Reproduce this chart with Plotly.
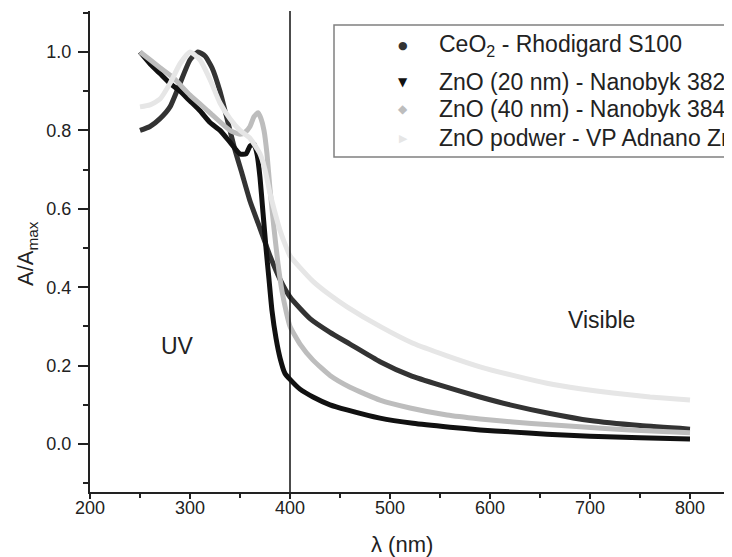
import plotly.graph_objects as go

# ---------------- data ----------------
series_names = [
    "CeO<sub>2</sub> - Rhodigard S100",
    "ZnO (20 nm) - Nanobyk 3820",
    "ZnO (40 nm) - Nanobyk 3840",
    "ZnO podwer - VP Adnano ZnO 20",
]

wl_ceo2 = [250, 260, 270, 280, 290, 300, 308, 315, 322, 330, 338, 345, 352, 360, 370,
           380, 390, 400, 420, 440, 460, 490, 520, 550, 590, 620, 660, 700, 750, 800]
a_ceo2 = [0.80, 0.81, 0.83, 0.86, 0.92, 0.98, 1.00, 0.99, 0.96, 0.90, 0.82, 0.75, 0.69, 0.62, 0.55,
          0.48, 0.42, 0.375, 0.32, 0.285, 0.255, 0.21, 0.175, 0.15, 0.12, 0.10, 0.078, 0.06, 0.047, 0.038]

wl_zno20 = [250, 260, 270, 280, 290, 300, 310, 320, 330, 340, 350, 356, 360, 364, 367, 370,
            373, 376, 379, 382, 386, 390, 395, 400, 410, 423, 440, 457, 490, 523, 560, 590,
            620, 657, 700, 750, 800]
a_zno20 = [1.0, 0.97, 0.945, 0.92, 0.90, 0.875, 0.85, 0.82, 0.80, 0.77, 0.74, 0.74, 0.76, 0.765, 0.74, 0.68,
           0.59, 0.50, 0.42, 0.34, 0.27, 0.22, 0.18, 0.165, 0.14, 0.12, 0.10, 0.087, 0.066, 0.053, 0.043, 0.036,
           0.031, 0.025, 0.02, 0.016, 0.013]

wl_zno40 = [250, 260, 270, 283, 300, 320, 340, 350, 355, 360, 364, 368, 371, 374, 377, 380, 384,
            388, 392, 396, 400, 410, 423, 440, 460, 490, 520, 557, 590, 623, 660, 690, 740, 800]
a_zno40 = [1.0, 0.98, 0.96, 0.935, 0.89, 0.845, 0.80, 0.79, 0.795, 0.81, 0.835, 0.845, 0.83, 0.80, 0.74, 0.65, 0.55,
           0.46, 0.39, 0.34, 0.30, 0.255, 0.214, 0.175, 0.145, 0.112, 0.092, 0.074, 0.064, 0.056, 0.049, 0.044, 0.036, 0.029]

wl_powder = [250, 260, 270, 280, 290, 300, 310, 320, 330, 340, 350, 360, 370, 375, 380, 385, 390,
             395, 400, 410, 423, 440, 457, 490, 523, 557, 590, 623, 657, 690, 723, 760, 800]
a_powder = [0.86, 0.865, 0.88, 0.92, 0.97, 1.0, 0.98, 0.93, 0.87, 0.83, 0.80, 0.78, 0.74, 0.70, 0.64, 0.59, 0.545,
            0.51, 0.48, 0.45, 0.415, 0.38, 0.35, 0.30, 0.257, 0.225, 0.197, 0.175, 0.155, 0.141, 0.13, 0.12, 0.112]

x_ticks = [200, 300, 400, 500, 600, 700, 800]
y_ticks = [0.0, 0.2, 0.4, 0.6, 0.8, 1.0]
uv_vis_boundary = 400

# ---------------- styles ----------------
colors = ["#333333", "#111111", "#bdbdbd", "#e6e6e6"]
symbols = ["\u25CF", "\u25BC", "\u25C6", "\u25B6"]
FONT = "Arial, Liberation Sans, sans-serif"

W, H = 732, 557
OFF = 8  # default page body margin
ML, MR, MT, MB = 82, 0, 3, 73

fig = go.Figure()
data = [(wl_ceo2, a_ceo2), (wl_zno20, a_zno20), (wl_zno40, a_zno40), (wl_powder, a_powder)]
for (x, y), c, n in zip(data, colors, series_names):
    fig.add_trace(go.Scatter(x=x, y=y, mode="lines", name=n, showlegend=False,
                             line=dict(color=c, width=5, shape="spline", smoothing=0.5)))

# vertical UV / visible boundary
fig.add_shape(type="line", xref="x", yref="paper", x0=uv_vis_boundary, x1=uv_vis_boundary,
              y0=0, y1=1, line=dict(color="#111111", width=1.5))

# text labels
fig.add_annotation(x=287, y=0.25, xref="x", yref="y", text="UV", showarrow=False,
                   xanchor="center", yanchor="middle",
                   font=dict(family=FONT, size=23, color="#222"))
fig.add_annotation(x=711, y=0.316, xref="x", yref="y", text="Visible", showarrow=False,
                   xanchor="center", yanchor="middle",
                   font=dict(family=FONT, size=23, color="#222"))

pw = W - ML - MR
ph = H - MT - MB
def px_x(p):  # page pixel -> paper coordinate
    return (p - OFF - ML) / pw
def px_y(p):
    return (H - MB - (p - OFF)) / ph

fig.add_annotation(xref="paper", yref="paper", x=px_x(402), y=px_y(544), text="\u03bb (nm)",
                   showarrow=False, xanchor="center", yanchor="middle",
                   font=dict(family=FONT, size=22, color="#222"))
fig.add_annotation(xref="paper", yref="paper", x=px_x(27), y=px_y(254), text="A/A<sub>max</sub>",
                   textangle=-90, showarrow=False, xanchor="center", yanchor="middle",
                   font=dict(family=FONT, size=22, color="#222"))

# manual legend (box is cut by the right edge as in the reference)
fig.add_shape(type="rect", xref="paper", yref="paper", x0=px_x(334), x1=px_x(900),
              y0=px_y(157), y1=px_y(25), line=dict(color="#808080", width=1.5),
              fillcolor="rgba(255,255,255,0)")
rows = [45, 82, 109, 138]
sym_sizes = [11, 12, 12, 11]
for name, c, s, r, ss in zip(series_names, colors, symbols, rows, sym_sizes):
    fig.add_annotation(xref="paper", yref="paper", x=px_x(403), y=px_y(r), text=s,
                       showarrow=False, xanchor="center", yanchor="middle",
                       font=dict(family="DejaVu Sans", size=ss, color=c))
    fig.add_annotation(xref="paper", yref="paper", x=px_x(437), y=px_y(r), text=name,
                       showarrow=False, xanchor="left", yanchor="middle",
                       font=dict(family=FONT, size=23, color="#222"))

fig.update_layout(
    width=W, height=H,
    margin=dict(l=ML, r=MR, t=MT, b=MB),
    paper_bgcolor="white", plot_bgcolor="white",
    showlegend=False,
)
fig.update_xaxes(range=[200, 200 + pw], tickvals=x_ticks, ticktext=[str(v) for v in x_ticks],
                 showgrid=False, zeroline=False, showline=True, linecolor="#222", linewidth=2,
                 ticks="outside", ticklen=5, tickwidth=2, tickcolor="#222",
                 minor=dict(ticks="outside", ticklen=4, tickwidth=2, tickcolor="#222", dtick=50, showgrid=False),
                 tickfont=dict(family=FONT, size=18, color="#222"), ticklabelstandoff=-7)
fig.update_yaxes(range=[-0.1224, 1.1046], tickvals=y_ticks, ticktext=[f"{v:.1f}" for v in y_ticks],
                 showgrid=False, zeroline=False, showline=True, linecolor="#222", linewidth=2,
                 ticks="outside", ticklen=10, tickwidth=2, tickcolor="#222",
                 minor=dict(ticks="outside", ticklen=5, tickwidth=2, tickcolor="#222", dtick=0.1, showgrid=False),
                 tickfont=dict(family=FONT, size=18, color="#222"), ticklabelstandoff=3)

fig.write_html("out.html")
